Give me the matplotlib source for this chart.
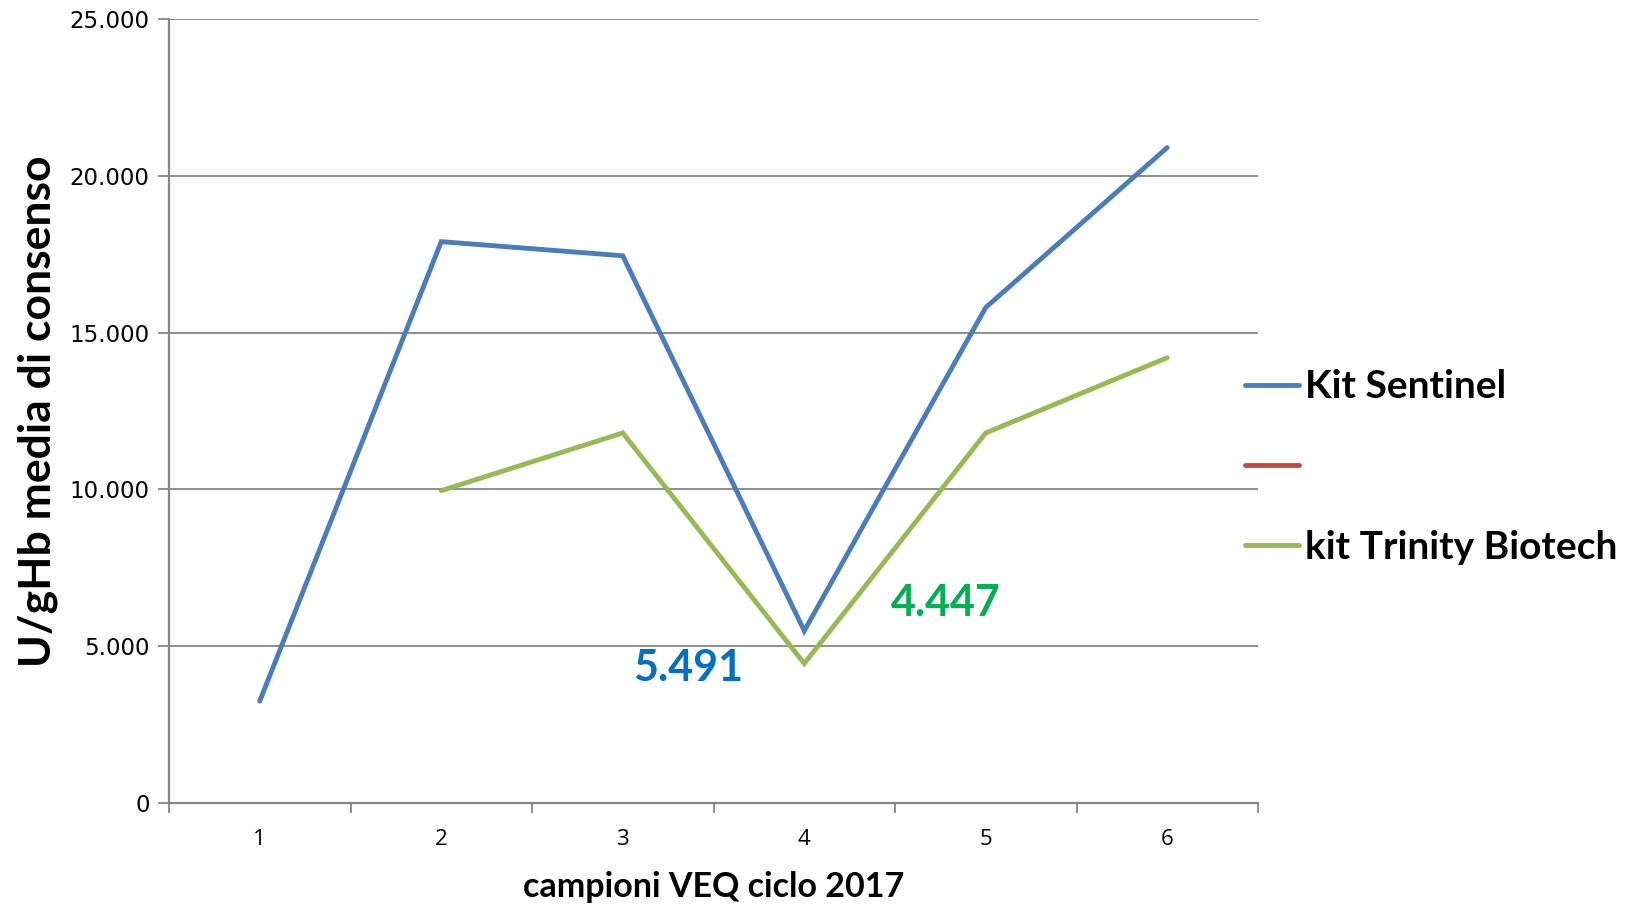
import matplotlib
matplotlib.use("Agg")
import matplotlib.pyplot as plt
from matplotlib.ticker import FixedLocator, FuncFormatter
import numpy as np

categories = [1, 2, 3, 4, 5, 6]
sentinel = [3250, 17900, 17450, 5491, 15800, 20900]
red_series = []
trinity = [np.nan, 9960, 11800, 4447, 11800, 14200]
series_labels = ["Kit Sentinel", " ", "kit Trinity Biotech"]
annot_values = ["5.491", "4.447"]
y_ticks = [0, 5000, 10000, 15000, 20000, 25000]

fig = plt.figure(figsize=(16.34, 9.07), dpi=100)
ax = fig.add_axes([169/1634, 1 - 803/907, (1258-169)/1634, (803-19)/907])

grey = "#868686"
blue = "#4A7EBB"
red = "#BE4B48"
green = "#98B954"

h1, = ax.plot(categories, sentinel, color=blue, lw=3.5, solid_capstyle="round",
              solid_joinstyle="miter", label=series_labels[0])
h2, = ax.plot(categories[:len(red_series)], red_series, color=red, lw=3.5,
              solid_capstyle="round", label=series_labels[1])
h3, = ax.plot(categories, trinity, color=green, lw=3.5, solid_capstyle="round",
              solid_joinstyle="miter", label=series_labels[2])

ax.set_xlim(0.5, 6.5)
ax.set_ylim(0, 25000)

ax.yaxis.set_major_locator(FixedLocator(y_ticks))
ax.yaxis.set_major_formatter(FuncFormatter(lambda v, p: f"{int(v):,}".replace(",", ".")))
ax.grid(axis="y", color=grey, lw=1.3)
ax.set_axisbelow(True)

ax.set_xticks(categories)
ax.set_xticklabels([str(c) for c in categories], fontfamily="Open Sans", fontsize=16)
ax.set_xticks(np.arange(0.5, 7.0, 1.0), minor=True)
ax.tick_params(axis="x", which="major", length=0, pad=19)
ax.tick_params(axis="x", which="minor", length=7, width=1.3, color=grey, direction="out")
ax.tick_params(axis="y", which="major", length=8, width=1.3, color=grey, pad=6,
               labelsize=16.5)
for lab in ax.get_yticklabels():
    lab.set_fontfamily("DejaVu Sans")

for s in ["top", "right"]:
    ax.spines[s].set_visible(False)
for s in ["left", "bottom"]:
    ax.spines[s].set_color(grey)
    ax.spines[s].set_linewidth(1.6)

ax.set_xlabel("campioni VEQ ciclo 2017", fontfamily="Lato", fontweight="bold",
              fontsize=24.5, labelpad=15)
ax.set_ylabel("U/gHb media di consenso", fontfamily="Lato", fontweight="bold",
              fontsize=32, labelpad=8)

ax.text(3.36, 4300, annot_values[0], color="#0070C0", fontfamily="Lato",
        fontweight="bold", fontsize=31, ha="center", va="center")
ax.text(4.78, 6370, annot_values[1], color="#00B050", fontfamily="Lato",
        fontweight="bold", fontsize=31, ha="center", va="center")

leg = ax.legend(handles=[h1, h2, h3], loc="center left",
                bbox_to_anchor=(1245/1634, 1 - 467/907), bbox_transform=fig.transFigure,
                frameon=False, prop={"family": "Lato", "weight": "bold", "size": 28},
                handlelength=1.4, handletextpad=0.15, labelspacing=1.16, borderpad=0,
                borderaxespad=0)

fig.savefig("out.png", dpi=100)
